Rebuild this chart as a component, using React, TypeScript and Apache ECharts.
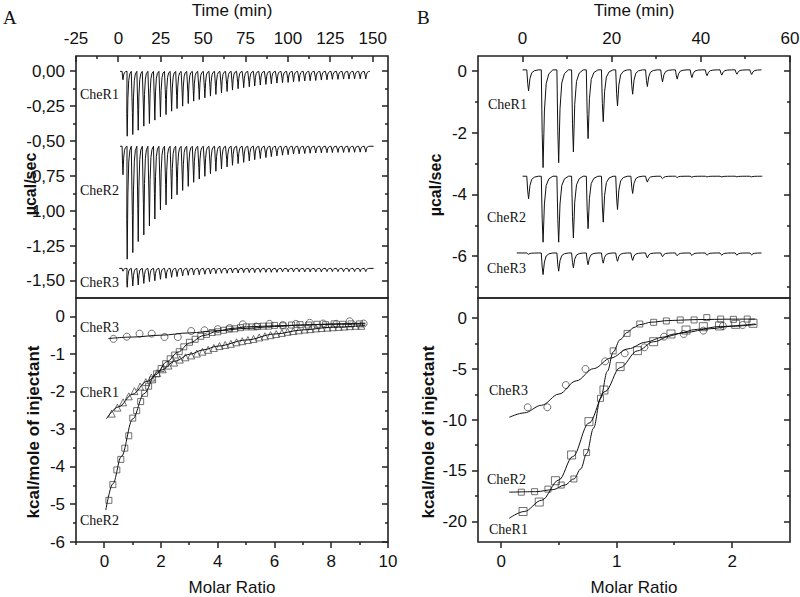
import React, { useEffect, useRef } from "react";
import * as echarts from "echarts";

// ---------------- Panel A : raw thermograms (Time, min ; µcal/sec) ----------------
const aInjectionTimes = [2.2, 4.7, 8.0, 11.2, 14.5, 17.8, 21.0, 24.3, 27.6, 30.9, 34.1, 37.4, 40.7, 43.9, 47.2, 50.5, 53.8, 57.0, 60.3, 63.6, 66.8, 70.1, 73.4, 76.7, 79.9, 83.2, 86.5, 89.7, 93.0, 96.3, 99.6, 102.8, 106.1, 109.4, 112.6, 115.9, 119.2, 122.5, 125.7, 129.0, 132.3, 135.5, 138.8, 142.1, 145.4];
const aCheR1Peaks = [-0.06, -0.464, -0.452, -0.421, -0.392, -0.373, -0.349, -0.325, -0.309, -0.285, -0.266, -0.249, -0.23, -0.213, -0.201, -0.189, -0.177, -0.165, -0.153, -0.144, -0.134, -0.124, -0.117, -0.11, -0.105, -0.098, -0.093, -0.089, -0.084, -0.081, -0.079, -0.074, -0.072, -0.069, -0.067, -0.065, -0.062, -0.06, -0.057, -0.057, -0.055, -0.055, -0.053, -0.053, -0.053];
const aCheR2Peaks = [-0.74, -1.344, -1.297, -1.218, -1.17, -1.105, -1.057, -0.99, -0.955, -0.914, -0.883, -0.852, -0.823, -0.794, -0.77, -0.751, -0.732, -0.715, -0.699, -0.684, -0.672, -0.66, -0.651, -0.641, -0.632, -0.624, -0.617, -0.61, -0.605, -0.6, -0.596, -0.592, -0.59, -0.588, -0.586, -0.584, -0.583, -0.582, -0.581, -0.58, -0.58, -0.579, -0.579, -0.578, -0.578];
const aCheR3Peaks = [-1.43, -1.545, -1.536, -1.529, -1.517, -1.505, -1.498, -1.488, -1.481, -1.474, -1.469, -1.464, -1.459, -1.457, -1.455, -1.452, -1.45, -1.447, -1.445, -1.445, -1.443, -1.443, -1.44, -1.44, -1.44, -1.438, -1.438, -1.438, -1.438, -1.435, -1.435, -1.435, -1.435, -1.435, -1.435, -1.435, -1.435, -1.433, -1.433, -1.433, -1.433, -1.433, -1.433, -1.433, -1.433];
const aBaselineCheR1 = 0.0;
const aBaselineCheR2 = -0.536;
const aBaselineCheR3 = -1.41;
const aTraceStart = [1.0, 1.0, 0.5];
const aTraceEnd = [148.5, 150.5, 150.5];

// ---------------- Panel A : integrated heats (Molar ratio ; kcal/mole) ----------------
const aCheR3X = [0.32, 0.79, 1.24, 1.67, 2.12, 2.59, 3.06, 3.53, 4.0, 4.42, 4.88, 5.35, 5.82, 6.29, 6.75, 7.24, 7.71, 8.18, 8.65, 9.14];
const aCheR3Y = [-0.59, -0.53, -0.45, -0.45, -0.54, -0.54, -0.38, -0.36, -0.33, -0.3, -0.2, -0.26, -0.19, -0.22, -0.19, -0.16, -0.18, -0.19, -0.12, -0.18];
const aCheR3FitX = [0.14, 1, 2, 3, 4, 5, 6, 7, 8, 9.2];
const aCheR3FitY = [-0.58, -0.54, -0.49, -0.43, -0.37, -0.31, -0.26, -0.22, -0.19, -0.17];

const aCheR1X = [0.26, 0.46, 0.66, 0.86, 1.06, 1.26, 1.46, 1.66, 1.86, 2.06, 2.26, 2.46, 2.66, 2.86, 3.06, 3.26, 3.46, 3.66, 3.86, 4.06, 4.26, 4.46, 4.66, 4.86, 5.06, 5.26, 5.46, 5.66, 5.86, 6.06, 6.26, 6.46, 6.66, 6.86, 7.06, 7.26, 7.46, 7.66, 7.86, 8.06, 8.26, 8.46, 8.66, 8.86, 9.06];
const aCheR1Y = [-2.58, -2.42, -2.28, -2.12, -1.98, -1.86, -1.74, -1.62, -1.5, -1.4, -1.3, -1.22, -1.14, -1.08, -1.03, -0.98, -0.93, -0.88, -0.83, -0.78, -0.75, -0.72, -0.68, -0.65, -0.62, -0.59, -0.55, -0.52, -0.49, -0.46, -0.43, -0.4, -0.38, -0.36, -0.34, -0.33, -0.31, -0.3, -0.29, -0.28, -0.27, -0.26, -0.25, -0.24, -0.24];
const aCheR1FitX = [0.07, 0.5, 1.0, 1.5, 2.0, 2.5, 3.0, 3.5, 4.0, 5, 6, 7, 8, 9.2];
const aCheR1FitY = [-2.72, -2.4, -2.06, -1.72, -1.42, -1.18, -1.0, -0.88, -0.78, -0.62, -0.46, -0.35, -0.28, -0.23];

const aCheR2X = [0.16, 0.3, 0.44, 0.58, 0.72, 0.86, 1.0, 1.14, 1.28, 1.42, 1.56, 1.7, 1.84, 2.0, 2.16, 2.32, 2.48, 2.64, 2.8, 3.0, 3.2, 3.4, 3.6, 3.8, 4.0, 4.2, 4.4, 4.6, 4.8, 5.0, 5.2, 5.4, 5.6, 5.8, 6.0, 6.3, 6.6, 6.9, 7.2, 7.5, 7.8, 8.1, 8.4, 8.7, 9.0];
const aCheR2Y = [-4.89, -4.47, -4.08, -3.8, -3.5, -3.17, -2.7, -2.5, -2.26, -2.04, -1.85, -1.68, -1.52, -1.38, -1.25, -1.12, -1.02, -0.93, -0.8, -0.68, -0.6, -0.52, -0.47, -0.42, -0.4, -0.36, -0.33, -0.32, -0.29, -0.27, -0.27, -0.26, -0.25, -0.25, -0.23, -0.24, -0.22, -0.21, -0.22, -0.2, -0.21, -0.19, -0.2, -0.19, -0.19];
const aCheR2FitX = [0.05, 0.3, 0.6, 1.0, 1.4, 1.8, 2.2, 2.6, 3.0, 3.5, 4.0, 4.5, 5, 6, 7, 8, 9.2];
const aCheR2FitY = [-5.15, -4.45, -3.72, -2.72, -2.05, -1.55, -1.2, -0.94, -0.7, -0.5, -0.38, -0.31, -0.27, -0.24, -0.22, -0.2, -0.19];

// ---------------- Panel B : raw thermograms ----------------
const bInjectionTimes = [0.95, 4.2, 7.7, 11.0, 14.3, 17.7, 20.9, 24.3, 27.6, 31.0, 34.3, 37.6, 41.0, 44.3, 47.7, 51.0];
const bCheR1Peaks = [-0.63, -3.12, -2.96, -2.61, -2.18, -1.63, -1.12, -0.74, -0.49, -0.34, -0.25, -0.2, -0.14, -0.12, -0.09, -0.1];
const bCheR2Peaks = [-4.13, -5.54, -5.54, -5.4, -5.1, -4.89, -4.48, -3.96, -3.59, -3.48, -3.44, -3.43, -3.42, -3.42, -3.42, -3.42];
const bCheR3Peaks = [-5.93, -6.59, -6.48, -6.37, -6.27, -6.22, -6.16, -6.13, -6.05, -6.01, -5.98, -5.97, -5.96, -5.96, -5.96, -5.95];
const bBaselineCheR1 = 0.05;
const bBaselineCheR2 = -3.4;
const bBaselineCheR3 = -5.89;
const bTraceStart = [0.0, 0.0, -1.3];
const bTraceEnd = [53.6, 53.8, 53.5];

// ---------------- Panel B : integrated heats ----------------
const bCheR3X = [0.23, 0.4, 0.56, 0.73, 0.9, 1.07, 1.24, 1.41, 1.58, 1.75, 1.92, 2.09];
const bCheR3Y = [-8.75, -8.75, -6.56, -4.98, -4.23, -3.44, -2.85, -1.8, -1.54, -1.21, -0.75, -0.66];
const bCheR3FitX = [0.07, 0.2, 0.35, 0.5, 0.65, 0.8, 0.95, 1.1, 1.25, 1.4, 1.6, 1.8, 2.0, 2.21];
const bCheR3FitY = [-9.74, -9.3, -8.55, -7.45, -6.15, -4.95, -3.9, -3.0, -2.35, -1.85, -1.38, -1.03, -0.78, -0.6];

const bCheR2X = [0.175, 0.29, 0.405, 0.52, 0.63, 0.74, 0.86, 0.97, 1.09, 1.2, 1.32, 1.43, 1.55, 1.67, 1.78, 1.9, 2.01, 2.13];
const bCheR2Y = [-17.1, -17.05, -16.8, -16.4, -15.8, -13.2, -7.87, -3.2, -1.48, -0.56, -0.39, -0.26, -0.16, -0.16, 0.07, -0.07, -0.1, -0.07];
const bCheR2FitX = [0.07, 0.3, 0.45, 0.55, 0.63, 0.69, 0.74, 0.8, 0.86, 0.92, 0.97, 1.03, 1.09, 1.15, 1.2, 1.3, 1.45, 1.7, 2.0, 2.2];
const bCheR2FitY = [-17.1, -17.05, -16.85, -16.4, -15.8, -14.8, -13.3, -10.8, -7.9, -5.2, -3.3, -2.1, -1.4, -0.9, -0.62, -0.38, -0.22, -0.12, -0.08, -0.07];

const bCheR1X = [0.19, 0.33, 0.47, 0.61, 0.76, 0.89, 1.03, 1.18, 1.32, 1.47, 1.6, 1.75, 1.89, 2.03, 2.18];
const bCheR1Y = [-19.0, -18.07, -15.97, -13.44, -10.16, -7.05, -4.75, -3.18, -2.3, -1.54, -1.15, -0.82, -0.75, -0.59, -0.49];
const bCheR1FitX = [0.07, 0.2, 0.35, 0.5, 0.62, 0.76, 0.9, 1.03, 1.18, 1.32, 1.5, 1.7, 1.9, 2.2];
const bCheR1FitY = [-19.67, -19.0, -17.9, -15.9, -13.6, -10.3, -7.2, -4.85, -3.2, -2.3, -1.55, -1.08, -0.8, -0.55];

// ---------------- Axis ranges & tick values ----------------
const aTopXRange = [-25, 159];
const aTopYRange = [-1.622, 0.11];
const aBotXRange = [-1, 10];
const aBotYRange = [-6, 0.5];
const bTopXRange = [-10, 60];
const bTopYRange = [-7.35, 0.5];
const bBotXRange = [-0.2, 2.5];
const bBotYRange = [-22, 2];

const aTopXTicks = [-25, 0, 25, 50, 75, 100, 125, 150];
const aTopXMinor = [-12.5, 12.5, 37.5, 62.5, 87.5, 112.5, 137.5];
const aTopYTicks = [-1.5, -1.25, -1.0, -0.75, -0.5, -0.25, 0];
const aTopYMinor = [-1.375, -1.125, -0.875, -0.625, -0.375, -0.125];
const aBotXTicks = [0, 2, 4, 6, 8, 10];
const aBotXMinor = [-1, 1, 3, 5, 7, 9];
const aBotYTicks = [-6, -5, -4, -3, -2, -1, 0];
const aBotYMinor = [-5.5, -4.5, -3.5, -2.5, -1.5, -0.5];
const bTopXTicks = [0, 20, 40, 60];
const bTopXMinor = [10, 30, 50];
const bTopYTicks = [-6, -4, -2, 0];
const bTopYMinor = [-7, -5, -3, -1];
const bBotXTicks = [0, 1, 2];
const bBotXMinor = [0.5, 1.5];
const bBotYTicks = [-20, -15, -10, -5, 0];
const bBotYMinor = [-17.5, -12.5, -7.5, -2.5];

// spike shape (time offset after injection, fraction of peak depth)
const aSpikeOffsets = [0, 0.25, 0.5, 0.9, 1.4, 2.0, 2.9];
const bSpikeOffsets = [0, 0.2, 0.4, 0.7, 1.1, 1.7, 2.6];
const spikeFractions = [0, 0.65, 1, 0.42, 0.14, 0.04, 0];

const SANS = "'Liberation Sans', Arial, Helvetica, sans-serif";
const SERIF = "'Liberation Serif', 'Times New Roman', Times, serif";
const INK = "#111111";
const FRAME = "#222222";

function trace(times: number[], peaks: number[], base: number, start: number, end: number, offs: number[]) {
  const pts: number[][] = [[start, base]];
  times.forEach((t, i) => {
    offs.forEach((o, j) => pts.push([t + o, base + (peaks[i] - base) * spikeFractions[j]]));
  });
  pts.push([end, base]);
  return pts;
}
const zip = (xs: number[], ys: number[]) => xs.map((x, i) => [x, ys[i]]);

function labelAxis(grid: number, pos: string, range: number[], ticks: number[], margin: number, fmt?: (v: number) => string) {
  return {
    type: "value",
    gridIndex: grid,
    position: pos,
    min: range[0],
    max: range[1],
    axisLine: { show: false, onZero: false },
    splitLine: { show: false },
    axisTick: { show: false },
    minorTick: { show: false },
    axisLabel: {
      show: true,
      customValues: ticks,
      margin,
      color: INK,
      fontSize: 17,
      fontFamily: SANS,
      formatter: fmt ?? ((v: number) => String(v)),
    },
  };
}

// frame + tick marks drawn through the grid's own scales (custom series)
function frameSeries(g: number, xr: number[], yr: number[], xMaj: number[], xMin: number[], yMaj: number[], yMin: number[], xOnTop: boolean) {
  return {
    type: "custom",
    xAxisIndex: g,
    yAxisIndex: g,
    silent: true,
    clip: false,
    z: 20,
    data: [[xr[0], yr[0]]],
    renderItem: (params: any, api: any) => {
      const cs = params.coordSys;
      const L = Math.round(cs.x);
      const T = Math.round(cs.y);
      const Rr = Math.round(cs.x + cs.width);
      const B = Math.round(cs.y + cs.height);
      const st = { stroke: FRAME, lineWidth: 1.5, fill: null };
      const kids: any[] = [
        { type: "rect", shape: { x: L, y: T, width: Rr - L, height: B - T }, style: { stroke: FRAME, lineWidth: 1.6, fill: "none" } },
      ];
      const addX = (vals: number[], len: number) => vals.forEach((v) => {
        const px = Math.round(api.coord([v, yr[0]])[0]);
        if (xOnTop) kids.push({ type: "line", shape: { x1: px, y1: T, x2: px, y2: T + len }, style: st });
        else kids.push({ type: "line", shape: { x1: px, y1: B, x2: px, y2: B + len }, style: st });
      });
      const addY = (vals: number[], len: number) => vals.forEach((v) => {
        const py = Math.round(api.coord([xr[0], v])[1]);
        kids.push({ type: "line", shape: { x1: L - len, y1: py, x2: L, y2: py }, style: st });
        kids.push({ type: "line", shape: { x1: Rr - len, y1: py, x2: Rr, y2: py }, style: st });
      });
      addX(xMaj, 6);
      addX(xMin, 3);
      addY(yMaj, 6);
      addY(yMin, 3);
      return { type: "group", children: kids };
    },
  };
}

const commaFmt = (v: number) => v.toFixed(2).replace(".", ",");

export default function App() {
  const ref = useRef<HTMLDivElement>(null);
  useEffect(() => {
    if (!ref.current) return;
    const chart = echarts.init(ref.current, null, { renderer: "svg" });

    const grids = [
      { left: 76, top: 56, width: 312, height: 242 },
      { left: 76, top: 298, width: 312, height: 244 },
      { left: 478, top: 56, width: 312, height: 242 },
      { left: 478, top: 298, width: 312, height: 244 },
    ].map((g) => ({ ...g, show: false, containLabel: false, outerBoundsMode: "none" }));

    const xAxis = [
      labelAxis(0, "top", aTopXRange, aTopXTicks, 9),
      labelAxis(1, "bottom", aBotXRange, aBotXTicks, 11),
      labelAxis(2, "top", bTopXRange, bTopXTicks, 9),
      labelAxis(3, "bottom", bBotXRange, bBotXTicks, 11),
    ];
    const yAxis = [
      labelAxis(0, "left", aTopYRange, aTopYTicks, 11, commaFmt),
      labelAxis(1, "left", aBotYRange, aBotYTicks, 11),
      labelAxis(2, "left", bTopYRange, bTopYTicks, 11),
      labelAxis(3, "left", bBotYRange, bBotYTicks, 11),
    ];

    const rawLine = (name: string, g: number, data: number[][]) => ({
      name, type: "line", xAxisIndex: g, yAxisIndex: g, data,
      symbol: "none", showSymbol: false, silent: true,
      lineStyle: { color: INK, width: 1 },
    });
    const fitLine = (name: string, g: number, data: number[][]) => ({
      name, type: "line", xAxisIndex: g, yAxisIndex: g, data,
      symbol: "none", showSymbol: false, silent: true, smooth: 0.35, smoothMonotone: "x",
      lineStyle: { color: INK, width: 1 }, z: 3,
    });
    const pts = (name: string, g: number, data: number[][], symbol: string, size: number) => ({
      name, type: "scatter", xAxisIndex: g, yAxisIndex: g, data, symbol, symbolSize: size, silent: true,
      itemStyle: { color: "rgba(255,255,255,0)", borderColor: "#3a3a3a", borderWidth: 0.9 }, z: 2,
    });

    const series = [
      frameSeries(0, aTopXRange, aTopYRange, aTopXTicks, aTopXMinor, aTopYTicks, aTopYMinor, true),
      frameSeries(1, aBotXRange, aBotYRange, aBotXTicks, aBotXMinor, aBotYTicks, aBotYMinor, false),
      frameSeries(2, bTopXRange, bTopYRange, bTopXTicks, bTopXMinor, bTopYTicks, bTopYMinor, true),
      frameSeries(3, bBotXRange, bBotYRange, bBotXTicks, bBotXMinor, bBotYTicks, bBotYMinor, false),

      rawLine("A CheR1 raw", 0, trace(aInjectionTimes, aCheR1Peaks, aBaselineCheR1, aTraceStart[0], aTraceEnd[0], aSpikeOffsets)),
      rawLine("A CheR2 raw", 0, trace(aInjectionTimes, aCheR2Peaks, aBaselineCheR2, aTraceStart[1], aTraceEnd[1], aSpikeOffsets)),
      rawLine("A CheR3 raw", 0, trace(aInjectionTimes, aCheR3Peaks, aBaselineCheR3, aTraceStart[2], aTraceEnd[2], aSpikeOffsets)),

      pts("A CheR3", 1, zip(aCheR3X, aCheR3Y), "circle", 7),
      fitLine("A CheR3 fit", 1, zip(aCheR3FitX, aCheR3FitY)),
      pts("A CheR1", 1, zip(aCheR1X, aCheR1Y), "triangle", 7),
      fitLine("A CheR1 fit", 1, zip(aCheR1FitX, aCheR1FitY)),
      pts("A CheR2", 1, zip(aCheR2X, aCheR2Y), "rect", 6),
      fitLine("A CheR2 fit", 1, zip(aCheR2FitX, aCheR2FitY)),

      rawLine("B CheR1 raw", 2, trace(bInjectionTimes, bCheR1Peaks, bBaselineCheR1, bTraceStart[0], bTraceEnd[0], bSpikeOffsets)),
      rawLine("B CheR2 raw", 2, trace(bInjectionTimes, bCheR2Peaks, bBaselineCheR2, bTraceStart[1], bTraceEnd[1], bSpikeOffsets)),
      rawLine("B CheR3 raw", 2, trace(bInjectionTimes, bCheR3Peaks, bBaselineCheR3, bTraceStart[2], bTraceEnd[2], bSpikeOffsets)),

      pts("B CheR3", 3, zip(bCheR3X, bCheR3Y), "circle", 7),
      fitLine("B CheR3 fit", 3, zip(bCheR3FitX, bCheR3FitY)),
      pts("B CheR2", 3, zip(bCheR2X, bCheR2Y), "rect", 6),
      fitLine("B CheR2 fit", 3, zip(bCheR2FitX, bCheR2FitY)),
      pts("B CheR1", 3, zip(bCheR1X, bCheR1Y), "rect", 8),
      fitLine("B CheR1 fit", 3, zip(bCheR1FitX, bCheR1FitY)),
    ];

    const txt = (text: string, x: number, y: number, opts: any = {}) => ({
      type: "text", x, y, rotation: opts.rotation ?? 0, silent: true,
      style: {
        text, fill: INK,
        font: opts.font ?? `16px ${SANS}`,
        textAlign: opts.align ?? "left",
        textVerticalAlign: "middle",
        align: opts.align ?? "left",
        verticalAlign: "middle",
      },
    });
    const serif = `14px ${SERIF}`;
    const graphic = [
      txt("A", 3, 17, { font: `19px ${SERIF}` }),
      txt("B", 417, 17, { font: `19px ${SERIF}` }),
      txt("Time (min)", 232, 10, { align: "center", font: `17px ${SANS}` }),
      txt("Time (min)", 634, 10, { align: "center", font: `17px ${SANS}` }),
      txt("Molar Ratio", 232, 587, { align: "center", font: `17px ${SANS}` }),
      txt("Molar Ratio", 634, 587, { align: "center", font: `17px ${SANS}` }),
      txt("µcal/sec", 30, 184, { align: "center", rotation: Math.PI / 2, font: `bold 16px ${SANS}` }),
      txt("µcal/sec", 435, 185, { align: "center", rotation: Math.PI / 2, font: `bold 16px ${SANS}` }),
      txt("kcal/mole of injectant", 33, 432, { align: "center", rotation: Math.PI / 2, font: `bold 17px ${SANS}` }),
      txt("kcal/mole of injectant", 428, 432, { align: "center", rotation: Math.PI / 2, font: `bold 17px ${SANS}` }),
      txt("CheR1", 80, 94, { font: serif }),
      txt("CheR2", 80, 190, { font: serif }),
      txt("CheR3", 80, 282, { font: serif }),
      txt("CheR3", 80, 327, { font: serif }),
      txt("CheR1", 80, 392, { font: serif }),
      txt("CheR2", 80, 520, { font: serif }),
      txt("CheR1", 488, 104, { font: serif }),
      txt("CheR2", 487, 217, { font: serif }),
      txt("CheR3", 487, 268, { font: serif }),
      txt("CheR3", 489, 390, { font: serif }),
      txt("CheR2", 487, 479, { font: serif }),
      txt("CheR1", 489, 529, { font: serif }),
    ];

    chart.setOption({
      animation: false,
      backgroundColor: "#ffffff",
      grid: grids,
      xAxis,
      yAxis,
      series,
      graphic,
    });
    return () => chart.dispose();
  }, []);

  return <div ref={ref} style={{ position: "fixed", left: 0, top: 0, width: 800, height: 597, background: "#fff" }} />;
}
